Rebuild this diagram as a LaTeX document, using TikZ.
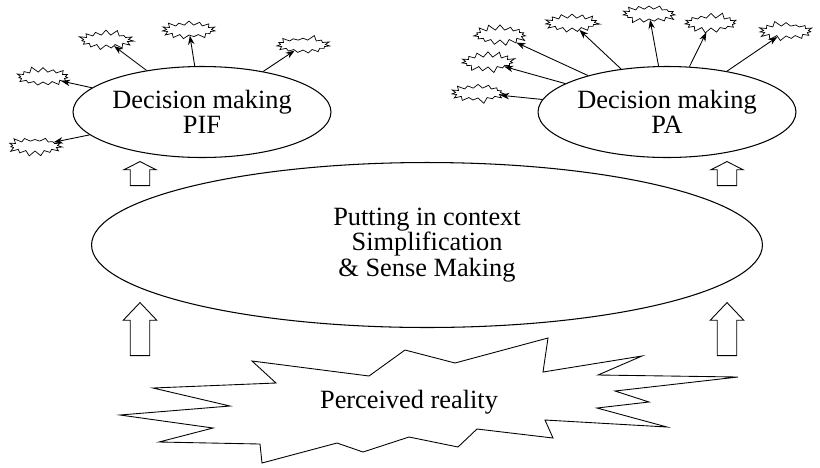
\documentclass[tikz,border=0pt]{standalone}
\usepackage{fontspec}
\setmainfont{Liberation Serif}
\usepackage{tikz}
\usetikzlibrary{shapes.geometric, shapes.symbols, shapes.arrows, arrows.meta}
\tikzstyle{decision} = [ellipse, draw, line width=0.6pt, text centered, align=center, inner sep=0pt, minimum width=5.16cm, minimum height=1.82cm]
\tikzstyle{sense} = [ellipse, draw, line width=0.6pt, text centered, align=center, inner sep=0pt, minimum width=13.42cm, minimum height=3.3cm]
\tikzstyle{choice} = [starburst, draw, line width=0.4pt, starburst points=15, starburst point height=0.12cm, minimum width=1.14cm, minimum height=0.44cm, inner sep=0pt]
\tikzstyle{uparrow} = [single arrow, draw, fill=white, line width=0.5pt, rotate=90, anchor=tail, inner xsep=0pt, inner ysep=0.186cm]
\tikzstyle{smallup} = [uparrow, minimum height=0.48cm, single arrow head extend=0.128cm, single arrow tip angle=126]
\tikzstyle{bigup} = [uparrow, minimum height=1.06cm, single arrow head extend=0.141cm, single arrow tip angle=87]
\tikzstyle{arrow} = [line width=0.5pt, -{Stealth[length=0.18cm, width=0.13cm]}]

\begin{document}
\begin{tikzpicture}[x=0.02cm, y=-0.02cm, font=\fontsize{15}{14.5}\selectfont] % pixel grid of the page
        \useasboundingbox (0,0) rectangle (820,467);

        % The two decision ellipses and the big one in the middle
        \node (pif) [decision] at (202,112) {Decision making\\PIF};
        \node (pa) [decision] at (667,112) {Decision making\\PA};
        \node (context) [sense] at (427,245) {Putting in context\\Simplification\\\& Sense Making};

        % Perceived reality (hand drawn outline)
        \draw [line width=0.5pt] (252,361) -- (369,376) -- (405,350) -- (455,363) -- (548,338) -- (543,372)
            -- (642,356) -- (598,375) -- (738,377) -- (615,391) -- (649,402) -- (597,408) -- (667,427)
            -- (545,420) -- (553,438) -- (477,429) -- (458,447) -- (409,437) -- (363,452) -- (337,443)
            -- (262,463) -- (260,444) -- (159,442) -- (213,428) -- (120,415) -- (230,406) -- (153,388)
            -- (276,383) -- cycle;
        \node (reality) at (409,402) {Perceived reality};

        % Hollow arrows going up
        \node (upleft) [smallup] at (140,186) {};
        \node (upright) [smallup] at (727,186) {};
        \node (inleft) [bigup] at (140,356) {};
        \node (inright) [bigup] at (727,356) {};

        % Choices around PIF
        \node (pif1) [choice, random starburst=11] at (43,77) {};
        \node (pif2) [choice, random starburst=23] at (35,146) {};
        \node (pif3) [choice, random starburst=37] at (106,40) {};
        \node (pif4) [choice, random starburst=41] at (189,30) {};
        \node (pif5) [choice, random starburst=59] at (303,45) {};

        % Choices around PA
        \node (pa1) [choice, random starburst=61] at (478,93) {};
        \node (pa2) [choice, random starburst=73] at (488,62) {};
        \node (pa3) [choice, random starburst=83] at (500,35) {};
        \node (pa4) [choice, random starburst=97] at (572,23) {};
        \node (pa5) [choice, random starburst=101] at (649,14) {};
        \node (pa6) [choice, random starburst=113] at (711,23) {};
        \node (pa7) [choice, random starburst=127] at (786,31) {};

        % Arrows out of the decisions
        \draw [arrow] (pif) -- (pif1);
        \draw [arrow] (pif) -- (pif2);
        \draw [arrow] (pif) -- (pif3);
        \draw [arrow] (pif) -- (pif4);
        \draw [arrow] (pif) -- (pif5);
        \draw [arrow] (pa) -- (pa1);
        \draw [arrow] (pa) -- (pa2);
        \draw [arrow] (pa) -- (pa3);
        \draw [arrow] (pa) -- (pa4);
        \draw [arrow] (pa) -- (pa5);
        \draw [arrow] (pa) -- (pa6);
        \draw [arrow] (pa) -- (pa7);

    \end{tikzpicture}
\end{document}
